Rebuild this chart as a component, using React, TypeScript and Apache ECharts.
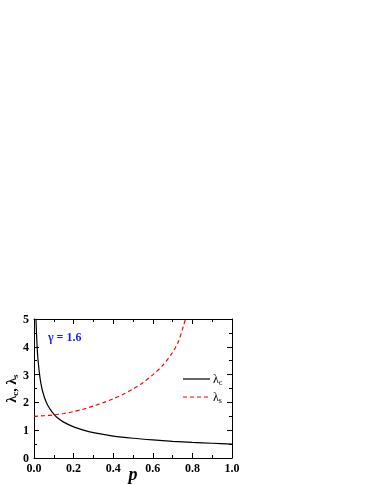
import React, { useEffect, useRef } from "react";
import * as echarts from "echarts";

const pC = [0.01, 0.015, 0.02, 0.03, 0.04, 0.05, 0.06, 0.07, 0.08, 0.1, 0.12, 0.15, 0.2, 0.25, 0.3, 0.4, 0.5, 0.6, 0.7, 0.8, 0.9, 1.0];
const lambdaC = [5.0, 4.1, 3.55, 2.9, 2.5, 2.24, 2.04, 1.89, 1.77, 1.58, 1.44, 1.29, 1.12, 1.0, 0.91, 0.79, 0.71, 0.65, 0.6, 0.56, 0.53, 0.5];
const pS = [0, 0.05, 0.1, 0.15, 0.2, 0.25, 0.3, 0.35, 0.4, 0.45, 0.5, 0.55, 0.6, 0.65, 0.7, 0.73, 0.755, 0.765];
const lambdaS = [1.5, 1.52, 1.55, 1.6, 1.67, 1.76, 1.87, 1.99, 2.13, 2.29, 2.48, 2.71, 2.99, 3.33, 3.8, 4.2, 4.75, 5.0];
const gammaLabel = "γ = 1.6";
const legendNames = ["c", "s"];

const FONT = "Liberation Serif";

export default function App() {
  const ref = useRef<HTMLDivElement>(null);
  useEffect(() => {
    const chart = echarts.init(ref.current!, null, { renderer: "svg" });
    const tickCommon = {
      axisTick: { show: true, inside: true, length: 5, lineStyle: { color: "#000", width: 1 } },
      minorTick: { show: true, splitNumber: 2, length: 3, lineStyle: { color: "#000", width: 1 } },
      axisLine: { show: true, onZero: false, lineStyle: { color: "#000", width: 1 } },
      splitLine: { show: false },
    };
    const rich = {
      a: { fontFamily: FONT, fontSize: 14, fontWeight: "bold", color: "#000" },
      s: { fontFamily: FONT, fontSize: 9, fontWeight: "bold", color: "#000", padding: [6, 0, 0, 0] },
    };
    const legendY = [379, 397];
    const legendGraphics: any[] = [];
    legendNames.forEach((n, i) => {
      legendGraphics.push({
        type: "line",
        shape: { x1: 183, y1: legendY[i], x2: 210, y2: legendY[i] },
        style: i === 0 ? { stroke: "#000", lineWidth: 1.2 } : { stroke: "#ff0000", lineWidth: 1.2, lineDash: [4, 3] },
      });
      legendGraphics.push({
        type: "text", x: 213, y: legendY[i] - 8,
        style: {
          text: `{a|λ}{s|${n}}`,
          rich: {
            a: { fontFamily: FONT, fontSize: 12, fill: "#000" },
            s: { fontFamily: FONT, fontSize: 8, fill: "#000", padding: [7, 0, 0, 0] },
          },
        },
      });
    });
    chart.setOption({
      animation: false,
      grid: { left: 34, top: 319, width: 198, height: 139, outerBoundsMode: "none", containLabel: false },
      xAxis: [
        {
          type: "value", min: 0, max: 1, interval: 0.2, position: "bottom",
          ...tickCommon,
          axisLabel: { formatter: (v: number) => v.toFixed(1), fontFamily: FONT, fontWeight: "bold", fontSize: 12, color: "#000", margin: 4 },
          name: "p", nameLocation: "middle", nameGap: 7, nameMoveOverlap: false,
          nameTextStyle: { fontFamily: FONT, fontWeight: "bold", fontStyle: "italic", fontSize: 18, color: "#000" },
        },
        {
          type: "value", min: 0, max: 1, interval: 0.2, position: "top",
          ...tickCommon, axisLabel: { show: false },
        },
      ],
      yAxis: [
        {
          type: "value", min: 0, max: 5, interval: 1, position: "left",
          ...tickCommon,
          axisLabel: { fontFamily: FONT, fontWeight: "bold", fontSize: 12, color: "#000", margin: 5 },
          name: "{a|λ}{s|c}{a|, λ}{s|s}", nameLocation: "middle", nameGap: 15, nameRotate: 90, nameMoveOverlap: false,
          nameTextStyle: { rich },
        },
        {
          type: "value", min: 0, max: 5, interval: 1, position: "right",
          ...tickCommon, axisLabel: { show: false },
        },
      ],
      graphic: [
        {
          type: "text", left: 48, top: 331,
          style: { text: gammaLabel, fontFamily: FONT, fontWeight: "bold", fontSize: 12, fill: "#1a1aff" },
        },
        ...legendGraphics,
      ],
      series: [
        {
          name: "c", type: "line", showSymbol: false, symbol: "none", smooth: 0.3,
          lineStyle: { color: "#000", width: 1.2 }, itemStyle: { color: "#000" },
          data: pC.map((p, i) => [p, lambdaC[i]]),
        },
        {
          name: "s", type: "line", showSymbol: false, symbol: "none", smooth: 0.3,
          lineStyle: { color: "#ff0000", width: 1.2, type: [4, 3] }, itemStyle: { color: "#ff0000" },
          data: pS.map((p, i) => [p, lambdaS[i]]),
        },
      ],
    });
    return () => chart.dispose();
  }, []);
  return <div ref={ref} style={{ position: "fixed", left: 0, top: 0, width: 374, height: 484 }} />;
}
